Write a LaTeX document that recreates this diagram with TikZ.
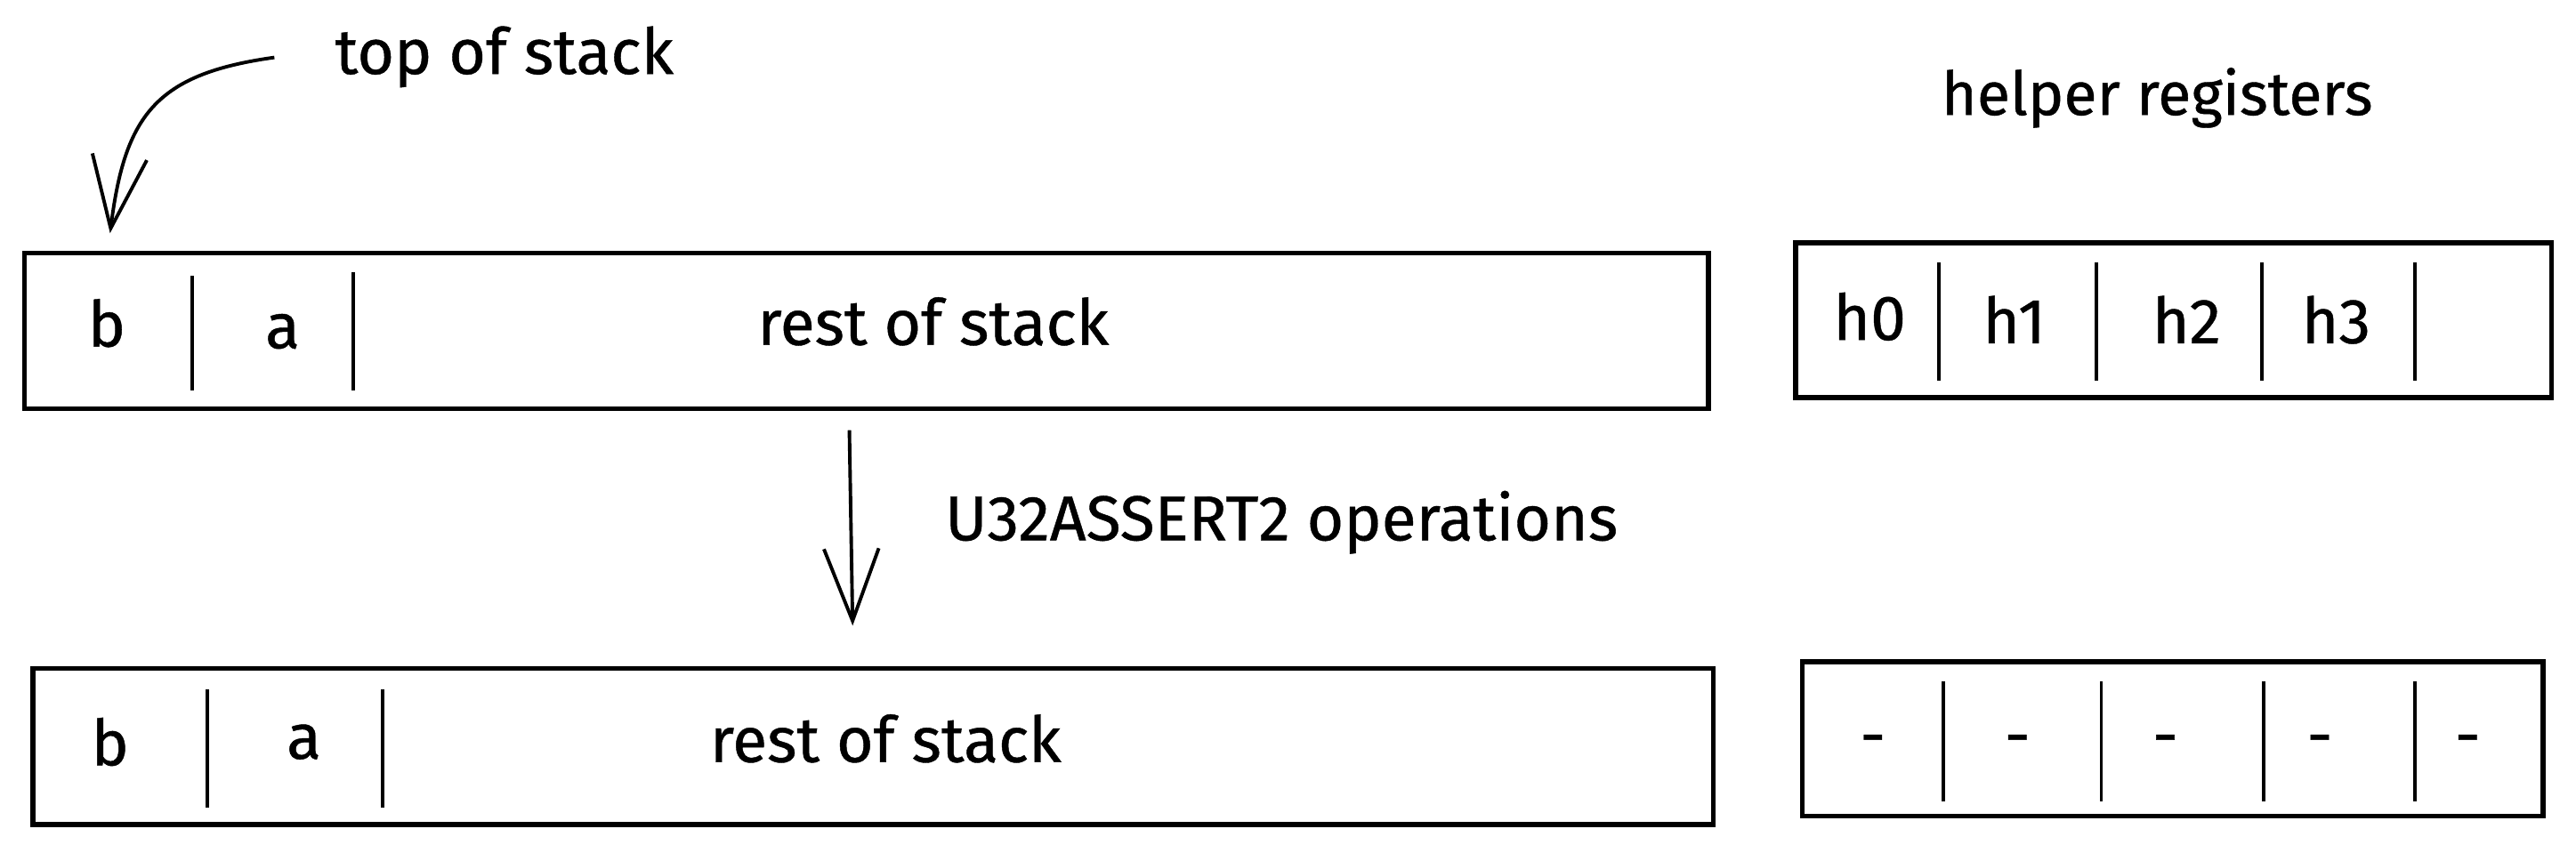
\documentclass[tikz,border=0pt]{standalone}
\usepackage{fontspec}
\setmainfont[FakeBold=0.6]{Fira Sans}
\usetikzlibrary{arrows.meta,fit}
\begin{document}
\begin{tikzpicture}[x=0.02cm,y=-0.02cm,
  box/.style={draw, line width=1.7pt, inner sep=0pt},
  divider/.style={line width=1.2pt},
  lbl/.style={font=\fontsize{22}{26}\selectfont, inner sep=0pt, anchor=base},
  arr/.style={line width=1.2pt, -{Straight Barb[length=25pt,width=19pt,line width=1.2pt]}}]
\useasboundingbox (0,0) rectangle (1568,519);
% top stack
\node[box, fit={(15,154) (1040,249)}] (s1) {};
\draw[divider] (117,168) -- (117,238);
\draw[divider] (215,166) -- (215,238);
\node[lbl] (s1b) at (65,211) {b};
\node[lbl] (s1a) at (172,212) {a};
\node[lbl] (s1r) at (568,210) {rest of stack};
% top helper
\node[box, fit={(1093,148) (1553,242)}] (h1) {};
\foreach \x in {1180,1276,1377,1470} \draw[divider] (\x,160) -- (\x,232);
\node[lbl] (h1a) at (1138,207) {h0};
\node[lbl] (h1b) at (1226,209) {h1};
\node[lbl] (h1c) at (1331,209) {h2};
\node[lbl] (h1d) at (1422,209) {h3};
\node[lbl, font=\fontsize{21}{25}\selectfont] (hr) at (1313,70) {helper registers};
% top of stack label and arrow
\node[lbl] (tos) at (307,45) {top of stack};
\coordinate (tosa) at (167,35);
\coordinate (tost) at (67,142);
\draw[arr] (tosa) .. controls (95,45) and (76,70) .. (tost);
% middle arrow
\coordinate (ma) at (517,262);
\coordinate (mb) at (519,381);
\draw[arr] (ma) -- (mb);
\node[lbl, anchor=base west] (ops) at (575,329) {U32ASSERT2 operations};
% bottom stack
\node[box, fit={(20,407) (1043,502)}] (s2) {};
\draw[divider] (126,420) -- (126,492);
\draw[divider] (233,420) -- (233,492);
\node[lbl] (s2b) at (67,466) {b};
\node[lbl] (s2a) at (185,462) {a};
\node[lbl] (s2r) at (539,464) {rest of stack};
% bottom helper
\node[box, fit={(1097,403) (1548,497)}] (h2) {};
\foreach \x in {1183,1279,1378,1470} \draw[divider] (\x,415) -- (\x,488);
\foreach \x in {1140,1228,1318,1412,1502} \node[lbl] at (\x,461) {-};
\end{tikzpicture}
\end{document}
